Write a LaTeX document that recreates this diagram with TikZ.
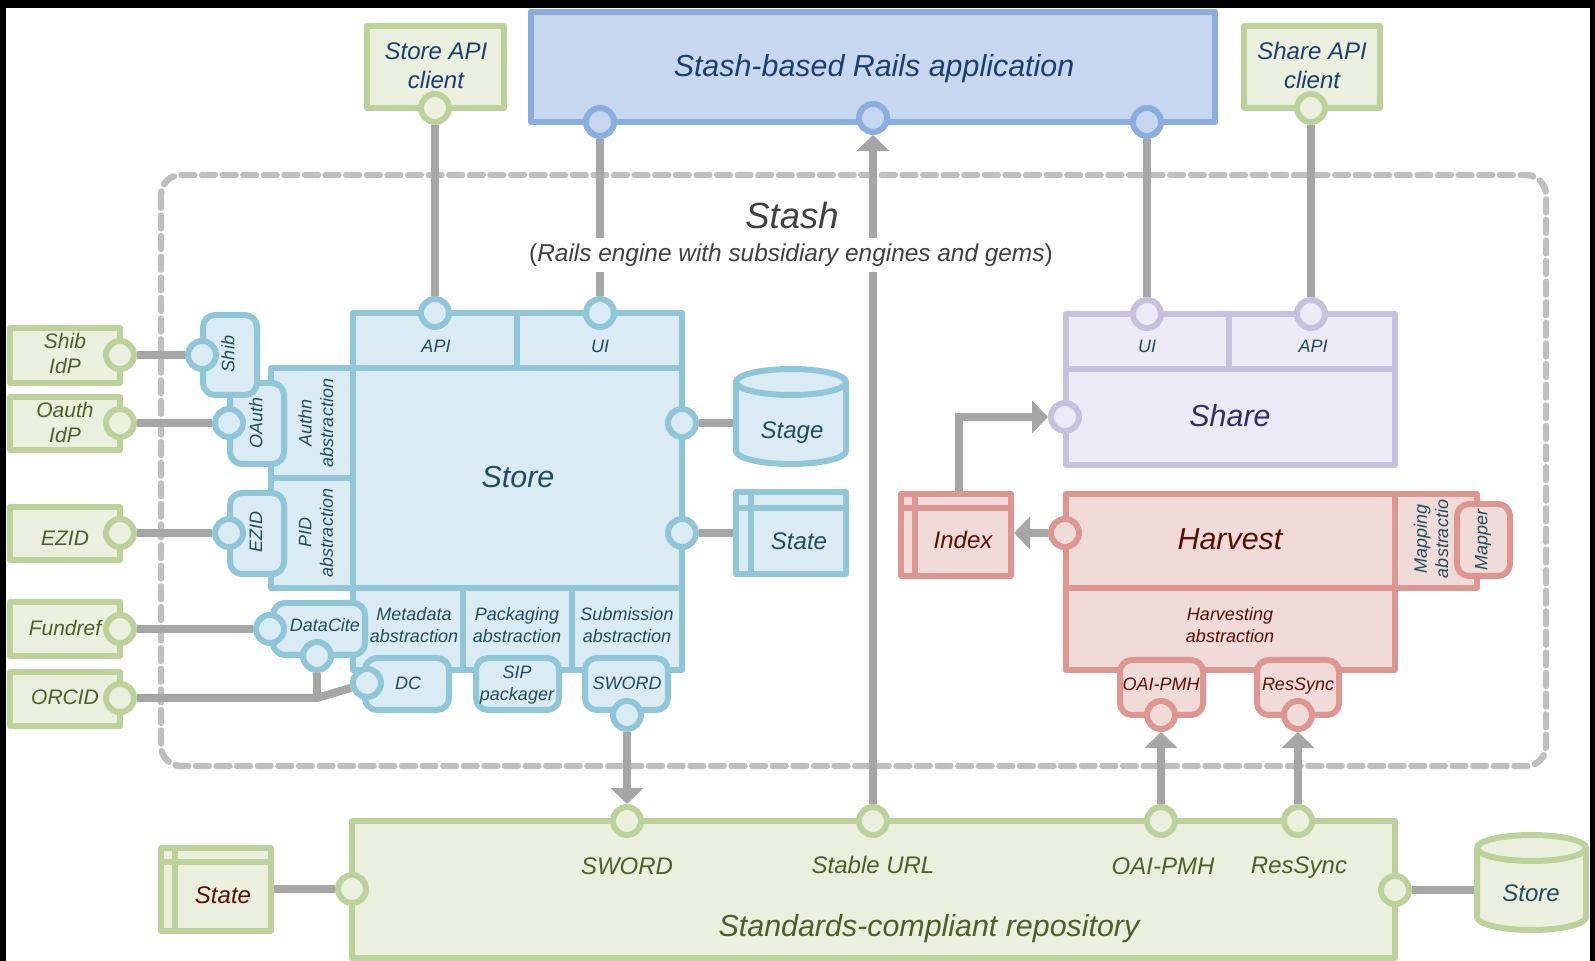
\documentclass[tikz,border=0pt]{standalone}
\usepackage{fontspec}
\setmainfont{Liberation Sans}
\usetikzlibrary{arrows.meta,backgrounds}
\definecolor{bluS}{HTML}{8FC7D9}\definecolor{bluF}{HTML}{DAEBF3}\definecolor{bluT}{HTML}{1F4E5F}
\definecolor{grnS}{HTML}{BDD29A}\definecolor{grnF}{HTML}{EAF0DD}\definecolor{grnT}{HTML}{4E5F2A}
\definecolor{purS}{HTML}{C7C0DE}\definecolor{purF}{HTML}{ECEAF4}\definecolor{purT}{HTML}{352C6A}
\definecolor{redS}{HTML}{DE9690}\definecolor{redF}{HTML}{F1DBD8}\definecolor{redT}{HTML}{5B0F00}
\definecolor{appS}{HTML}{8AAEE0}\definecolor{appF}{HTML}{C6D7EF}\definecolor{appT}{HTML}{1C3F70}
\definecolor{gryL}{HTML}{A6A6A6}\definecolor{dashL}{HTML}{BFBFBF}
\newcommand\fs[2]{\fontsize{#1}{#2}\selectfont\itshape}
\tikzset{
  x=0.5pt,y=-0.5pt,
  bluE/.style={draw=bluS,fill=bluF},
  grnE/.style={draw=grnS,fill=grnF},
  purE/.style={draw=purS,fill=purF},
  redE/.style={draw=redS,fill=redF},
  appE/.style={draw=appS,fill=appF},
  boxs/.style={rectangle,line width=3pt,line join=round,inner sep=0pt},
  rbox/.style={boxs,rounded corners=6pt},
  port/.style={circle,line width=3pt,minimum size=14pt,inner sep=0pt},
  conn/.style={draw=gryL,line width=4pt},
  arr/.style={conn,-{Triangle[length=8pt,width=16pt]}},
  tb/.style={font=\fs{9}{10.7},align=center,text=bluT,inner sep=0pt},
  tr/.style={font=\fs{9}{10.7},align=center,text=redT,inner sep=0pt},
  tg/.style={font=\fs{10.5}{12.5},align=center,text=grnT,inner sep=0pt},
  tm/.style={font=\fs{12}{14.5},align=center,inner sep=0pt},
  tl/.style={font=\fs{15.2}{18},align=center,inner sep=0pt},
}
\newcommand\bx[7]{\pgfmathsetmacro\cxx{(#2+#4)/2}\pgfmathsetmacro\cyy{(#3+#5)/2}%
  \node[#6,minimum width={(#4-#2)*0.5pt},minimum height={(#5-#3)*0.5pt}] (#1) at (\cxx,\cyy) {#7};}
\newcommand\tbl[8]{% name x1 y1 x2 y2 style hx hy
  \bx{#1}{#2}{#3}{#4}{#5}{boxs,#6}{}
  \draw[line width=3pt,#6,fill=none] (#2,#8) -- (#4,#8) (#7,#3) -- (#7,#5);}
\newcommand\cyl[7]{% name x1 y1 x2 y2 style ry
  \pgfmathsetmacro\cxx{(#2+#4)/2}\pgfmathsetmacro\cyy{(#3+#5)/2}%
  \pgfmathsetmacro\ctt{#3+#7}\pgfmathsetmacro\cbb{#5-#7}%
  \pgfmathsetmacro\rxx{(#4-#2)/2}%
  \pgfmathsetmacro\kx{\rxx*0.5523}\pgfmathsetmacro\ky{#7*0.5523}%
  \node[minimum width={(#4-#2)*0.5pt},minimum height={(#5-#3)*0.5pt},inner sep=0pt,outer sep=0pt] (#1) at (\cxx,\cyy) {};
  \draw[line width=3pt,line join=round,#6] (#2,\ctt) -- (#2,\cbb)
    .. controls (#2,\cbb+\ky) and (\cxx-\kx,#5) .. (\cxx,#5)
    .. controls (\cxx+\kx,#5) and (#4,\cbb+\ky) .. (#4,\cbb)
    -- (#4,\ctt) -- cycle;
  \draw[line width=3pt,#6] (\cxx,\ctt) ellipse [x radius={\rxx*0.5pt},y radius={#7*0.5pt}];}
\begin{document}
\begin{tikzpicture}
\useasboundingbox (0,0) rectangle (1595,961);
\begin{pgfonlayer}{background}
  \fill[black] (0,0) rectangle (1595,961);
  \fill[white] (6,8) rectangle (1590,961);
  \draw[dashL,line width=3.2pt,line cap=round,rounded corners=10pt,dash pattern=on 6.4pt off 3.9pt] (161,175) rectangle (1546,766);
\end{pgfonlayer}
% top boxes
\bx{app}{531}{12}{1215}{122}{boxs,appE}{}
\bx{storeapi}{367}{26}{504}{108}{boxs,grnE}{}
\bx{shareapi}{1244}{26}{1380}{108}{boxs,grnE}{}
% left clients
\bx{shibc}{10}{328}{120}{383}{boxs,grnE}{}
\bx{oauthc}{10}{397}{120}{450}{boxs,grnE}{}
\bx{ezidc}{10}{507}{120}{560}{boxs,grnE}{}
\bx{fundc}{10}{602}{120}{656}{boxs,grnE}{}
\bx{orcidc}{10}{672}{120}{726}{boxs,grnE}{}
% Store
\bx{storeui}{353}{313}{682}{368}{boxs,bluE}{}
\bx{authn}{271}{368}{353}{478}{boxs,bluE}{}
\bx{pid}{271}{478}{353}{588}{boxs,bluE}{}
\bx{storemain}{353}{368}{682}{588}{boxs,bluE}{}
\bx{meta}{353}{588}{463}{670}{boxs,bluE}{}
\bx{pack}{463}{588}{572}{670}{boxs,bluE}{}
\bx{subm}{572}{588}{682}{670}{boxs,bluE}{}
\draw[line width=3pt,draw=bluS] (517,313) -- (517,368);
\bx{oauth}{230}{383}{284}{464}{rbox,bluE}{}
\bx{shib}{203}{315}{257}{395}{rbox,bluE}{}
\bx{ezid}{230}{493}{284}{574}{rbox,bluE}{}
\bx{dc}{365}{658}{449}{710}{rbox,bluE}{}
\bx{datacite}{273}{603}{365}{655}{rbox,bluE}{}
\bx{sip}{476}{658}{559}{710}{rbox,bluE}{}
\bx{swordb}{585}{658}{668}{710}{rbox,bluE}{}
% Stage/State
\cyl{stage}{736}{369}{846}{464}{bluE}{13}
\tbl{state}{736}{492}{846}{574}{bluE}{751}{508}
% Share
\bx{sharemain}{1066}{314}{1395}{465}{boxs,purE}{}
\draw[line width=3pt,draw=purS] (1066,369) -- (1395,369) (1229,314) -- (1229,369);
% Harvest
\bx{mapping}{1395}{494}{1477}{588}{boxs,redE}{}
\bx{harvest}{1066}{494}{1395}{588}{boxs,redE}{}
\bx{harvab}{1066}{588}{1395}{670}{boxs,redE}{}
\tbl{index}{901}{494}{1011}{576}{redE}{915}{508}
\node[tb,rotate=90] (tmapping) at (1431,539) {Mapping\\abstractio};
\bx{mapper}{1457}{504}{1510}{576}{rbox,redE}{}
\bx{oaib}{1120}{660}{1203}{715}{rbox,redE}{}
\bx{resb}{1257}{660}{1339}{715}{rbox,redE}{}
% Repository
\bx{repo}{352}{821}{1395}{958}{boxs,grnE}{}
\tbl{statebot}{161}{848}{271}{931}{grnE}{175}{862}
\cyl{storebot}{1477}{835}{1586}{930}{grnE}{13}
% ports
\node[port,grnE] (pstoreapi) at (435,108) {};
\node[port,grnE] (pshareapi) at (1311,108) {};
\node[port,appE] (papp1) at (600,122) {};
\node[port,appE] (papp2) at (873,118) {};
\node[port,appE] (papp3) at (1147,122) {};
\node[port,bluE] (papi) at (435,313) {};
\node[port,bluE] (pui) at (600,313) {};
\node[port,purE] (pshui) at (1147,314) {};
\node[port,purE] (pshapi) at (1311,314) {};
\node[port,purE] (pshare) at (1065,417) {};
\node[port,redE] (pharv) at (1065,533) {};
\node[port,bluE] (pstage) at (682,423) {};
\node[port,bluE] (pstate) at (682,533) {};
\node[port,grnE] (pshibc) at (120,355) {};
\node[port,grnE] (poauthc) at (120,423) {};
\node[port,grnE] (pezidc) at (120,533) {};
\node[port,grnE] (pfundc) at (120,629) {};
\node[port,grnE] (porcidc) at (120,698) {};
\node[port,bluE] (pshib) at (202,355) {};
\node[port,bluE] (poauth) at (229,423) {};
\node[port,bluE] (pezid) at (229,533) {};
\node[port,bluE] (pdcl) at (270,629) {};
\node[port,bluE] (pdcb) at (317,656) {};
\node[port,bluE] (pdc) at (367,683) {};
\node[port,bluE] (psword) at (627,715) {};
\node[port,redE] (poai) at (1161,715) {};
\node[port,redE] (pres) at (1298,715) {};
\node[port,grnE] (rsword) at (627,821) {};
\node[port,grnE] (rurl) at (873,821) {};
\node[port,grnE] (roai) at (1161,821) {};
\node[port,grnE] (rres) at (1298,821) {};
\node[port,grnE] (rstate) at (352,889) {};
\node[port,grnE] (rstore) at (1395,890) {};
% connectors
\coordinate (orcidjoin) at (317,698);
\coordinate (idxout) at (959,494);
\begin{pgfonlayer}{background}
  \draw[conn] (pstoreapi) -- (papi);
  \draw[conn] (papp1) -- (pui);
  \draw[conn] (papp3) -- (pshui);
  \draw[conn] (pshareapi) -- (pshapi);
  \draw[arr] (rurl) -- (papp2);
  \draw[conn] (pshibc) -- (pshib);
  \draw[conn] (poauthc) -- (poauth);
  \draw[conn] (pezidc) -- (pezid);
  \draw[conn] (pfundc) -- (pdcl);
  \draw[conn] (porcidc) -- (orcidjoin) -- (pdc);
  \draw[conn] (pdcb) -- (orcidjoin);
  \draw[conn] (pstage) -- (pstage -| stage.west);
  \draw[conn] (pstate) -- (pstate -| state.west);
  \draw[arr] (idxout) |- (pshare);
  \draw[arr] (pharv) -- (pharv -| index.east);
  \draw[arr] (psword) -- (rsword);
  \draw[arr] (roai) -- (poai);
  \draw[arr] (rres) -- (pres);
  \draw[conn] (rstate -| statebot.east) -- (rstate);
  \draw[conn] (rstore) -- (rstore -| storebot.west);
\end{pgfonlayer}
% text
\node[tl,text=appT] (tapp) at (874,69) {Stash-based Rails application};
\node[tm,text=appT] (tstoreapi) at (436,66) {Store API\\client};
\node[tm,text=appT] (tshareapi) at (1312,65) {Share API\\client};
\node[font=\fontsize{18.2}{22}\selectfont\itshape,text=black!75,inner sep=0pt] (tstash) at (792,215) {Stash};
\node[font=\fontsize{12.2}{14}\selectfont,text=black!75,fill=white,inner xsep=0pt,inner ysep=3pt] (tsub) at (791,255) {(\textit{Rails engine with subsidiary engines and gems})};
\node[tg] at (65,354) {Shib\\IdP};
\node[tg] at (65,423) {Oauth\\IdP};
\node[tg] at (65,538) {EZID};
\node[tg] at (65,628) {Fundref};
\node[tg] at (65,697) {ORCID};
\node[tb] at (436,346) {API};
\node[tb] at (600,346) {UI};
\node[tl,text=bluT] at (518,477) {Store};
\node[tb,rotate=90] at (316,423) {Authn\\abstraction};
\node[tb,rotate=90] at (316,533) {PID\\abstraction};
\node[tb,rotate=90] at (228,354) {Shib};
\node[tb,rotate=90] at (256,423) {OAuth};
\node[tb,rotate=90] at (256,532) {EZID};
\node[tb] at (325,625) {DataCite};
\node[tb] at (408,683) {DC};
\node[tb] at (414,625) {Metadata\\abstraction};
\node[tb] at (517,625) {Packaging\\abstraction};
\node[tb] at (627,625) {Submission\\abstraction};
\node[tb] at (517,685) {SIP\\packager};
\node[tb] at (627,683) {SWORD};
\node[tm,text=bluT] at (792,433) {Stage};
\node[tm,text=bluT] at (799,541) {State};
\node[tb] at (1147,346) {UI};
\node[tb] at (1313,346) {API};
\node[tl,text=purT] at (1230,416) {Share};
\node[tl,text=redT] at (1230,539) {Harvest};
\node[tm,text=redT] at (963,540) {Index};
\node[tr] at (1230,625) {Harvesting\\abstraction};
\node[tb,rotate=90] at (1483,540) {Mapper};
\node[tr] at (1161,684) {OAI-PMH};
\node[tr] at (1298,686) {ResSync};
\node[tm,text=grnT] at (627,866) {SWORD};
\node[tm,text=grnT] at (873,865) {Stable URL};
\node[tm,text=grnT] at (1163,866) {OAI-PMH};
\node[tm,text=grnT] at (1299,868) {ResSync};
\node[tl,text=grnT] at (929,929) {Standards-compliant repository};
\node[tm,text=redT] at (223,895) {State};
\node[tm,text=bluT] at (1531,893) {Store};
\end{tikzpicture}
\end{document}
